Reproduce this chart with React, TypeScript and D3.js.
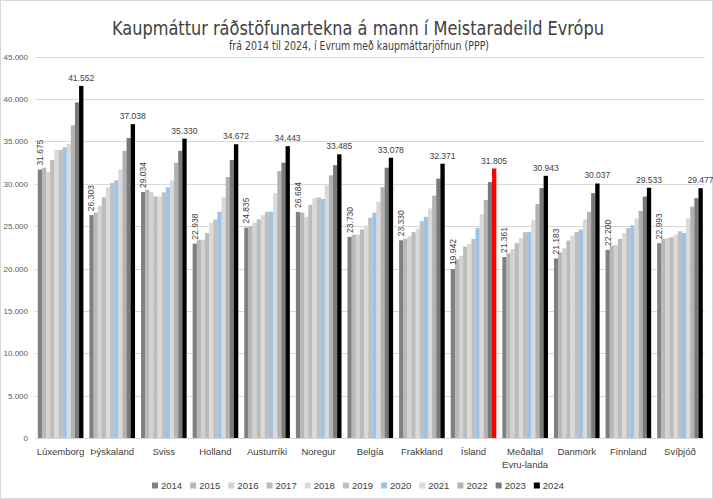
import { useRef, useEffect } from "react";
import * as d3 from "d3";

const countries = [
  "Lúxemborg", "Þýskaland", "Sviss", "Holland", "Austurríki", "Noregur",
  "Belgía", "Frakkland", "Ísland", "Meðaltal\nEvru-landa", "Danmörk", "Finnland", "Svíþjóð",
];
const years = ["2014", "2015", "2016", "2017", "2018", "2019", "2020", "2021", "2022", "2023", "2024"];

// one row per country, one value per year (2014..2024)
const luxemborg = [31675, 31900, 31400, 32800, 34000, 34000, 34300, 34700, 36900, 39600, 41552];
const thyskaland = [26303, 26600, 27400, 28400, 29600, 30100, 30400, 31700, 33900, 35400, 37038];
const sviss = [29034, 29300, 29000, 28500, 28500, 29000, 29600, 30400, 32500, 33900, 35330];
const holland = [22938, 23350, 23400, 24200, 25400, 25800, 26700, 28400, 30800, 32800, 34672];
const austurriki = [24835, 25000, 25400, 25800, 26300, 26700, 26700, 28900, 31500, 32500, 34443];
const noregur = [26684, 26600, 26100, 27500, 28300, 28400, 28200, 29800, 31000, 32200, 33485];
const belgia = [23730, 24000, 24000, 24600, 25100, 26000, 26600, 27900, 29600, 31900, 33078];
const frakkland = [23330, 23500, 23800, 24300, 24700, 25600, 26100, 27100, 28600, 30600, 32371];
const island = [19942, 21100, 21500, 22600, 22900, 23500, 24800, 26400, 28100, 30200, 31805];
const medaltal = [21361, 21800, 22300, 23000, 23600, 24300, 24300, 25700, 27600, 29500, 30943];
const danmork = [21183, 21900, 22400, 23300, 23900, 24300, 24600, 25800, 26700, 28900, 30037];
const finnland = [22200, 22700, 22800, 23500, 24200, 24800, 25100, 25900, 26800, 28500, 29533];
const svithjod = [22993, 23500, 23600, 23700, 24000, 24400, 24200, 25900, 27300, 28300, 29477];

const values = [
  luxemborg, thyskaland, sviss, holland, austurriki, noregur,
  belgia, frakkland, island, medaltal, danmork, finnland, svithjod,
];

const yTicks = [0, 5000, 10000, 15000, 20000, 25000, 30000, 35000, 40000, 45000];

const yearColors = [
  "#808080", "#b8b8b8", "#d2d2d2", "#bcbcbc", "#dadada", "#c0c0c0",
  "#9dc3e6", "#d9d9d9", "#b2b2b2", "#7a7a7a", "#000000",
];

const W = 713;
const H = 499;
const fontMain = "'Liberation Sans', 'Noto Sans', sans-serif";
const fontTitle = "'DejaVu Sans Condensed', 'Liberation Sans Narrow', sans-serif";

const App = () => {
  const svgRef = useRef<SVGSVGElement>(null);

  useEffect(() => {
    if (!svgRef.current) return;
    const svg = d3.select(svgRef.current);
    svg.selectAll("*").remove();

    const fmt = d3.formatLocale({
      decimal: ",",
      thousands: ".",
      grouping: [3],
      currency: ["", ""],
    }).format(",d");

    const x = d3.scaleBand<string>().domain(countries).range([34.7, 705.7])
      .paddingInner(0.12).paddingOuter(0.06);
    const xi = d3.scaleBand<string>().domain(years).range([0, x.bandwidth()]).padding(0);
    const y = d3.scaleLinear().domain([0, 45000]).range([438, 56.7]);

    svg.append("rect").attr("x", 0.5).attr("y", 0.5).attr("width", W - 1).attr("height", H - 1)
      .attr("fill", "#fff").attr("stroke", "#d9d9d9");

    // title
    svg.append("text").attr("x", 358).attr("y", 35).attr("text-anchor", "middle")
      .attr("font-family", fontTitle).attr("font-size", 20).attr("fill", "#404040")
      .attr("textLength", 492).attr("lengthAdjust", "spacingAndGlyphs")
      .text("Kaupmáttur ráðstöfunartekna á mann í Meistaradeild Evrópu");
    svg.append("text").attr("x", 359).attr("y", 50).attr("text-anchor", "middle")
      .attr("font-family", fontTitle).attr("font-size", 11.5).attr("fill", "#404040")
      .attr("textLength", 260).attr("lengthAdjust", "spacingAndGlyphs")
      .text("frá 2014 til 2024, í Evrum með kaupmáttarjöfnun (PPP)");

    // grid + y labels
    const grid = svg.append("g");
    grid.selectAll("line").data(yTicks).enter().append("line")
      .attr("x1", 35).attr("x2", 705)
      .attr("y1", (d) => Math.round(y(d)) + 0.5).attr("y2", (d) => Math.round(y(d)) + 0.5)
      .attr("stroke", "#d9d9d9").attr("stroke-width", 1);
    grid.selectAll("text").data(yTicks).enter().append("text")
      .attr("x", 28).attr("y", (d) => y(d) + 3).attr("text-anchor", "end")
      .attr("font-family", fontMain).attr("font-size", 8).attr("fill", "#595959")
      .text((d) => fmt(d));

    // bars
    const groups = svg.append("g").selectAll("g").data(countries).enter().append("g")
      .attr("transform", (c) => `translate(${x(c)},0)`);
    groups.each(function (c, ci) {
      const g = d3.select(this);
      const row = values[ci];
      g.selectAll("rect").data(row).enter().append("rect")
        .attr("x", (_, i) => xi(years[i])!)
        .attr("width", xi.bandwidth() + 0.2)
        .attr("y", (v) => y(v))
        .attr("height", (v) => y(0) - y(v))
        .attr("fill", (_, i) => (c === "Ísland" && i === 10 ? "#ff0000" : yearColors[i]));

      const first = row[0];
      const fx = xi(years[0])! + xi.bandwidth() / 2 + 3;
      g.append("text")
        .attr("transform", `translate(${fx},${y(first) - 4}) rotate(-90)`)
        .attr("font-family", fontMain).attr("font-size", 8.5).attr("fill", "#404040")
        .text(fmt(first));
      const last = row[10];
      g.append("text")
        .attr("x", xi(years[10])! + xi.bandwidth() / 2).attr("y", y(last) - 5)
        .attr("text-anchor", "middle")
        .attr("font-family", fontMain).attr("font-size", 8.5).attr("fill", "#404040")
        .text(fmt(last));
    });

    // x labels
    const xl = svg.append("g").selectAll("text").data(countries).enter().append("text")
      .attr("x", (c) => x(c)! + x.bandwidth() / 2).attr("y", 455)
      .attr("text-anchor", "middle")
      .attr("font-family", fontMain).attr("font-size", 9.5).attr("fill", "#404040");
    xl.each(function (c) {
      const t = d3.select(this);
      c.split("\n").forEach((part, i) => {
        t.append("tspan").attr("x", x(c)! + x.bandwidth() / 2).attr("dy", i === 0 ? 0 : 13).text(part);
      });
    });

    // legend
    const legend = d3.scaleBand<string>().domain(years).range([152, 572]);
    const li = svg.append("g").selectAll("g").data(years).enter().append("g")
      .attr("transform", (d) => `translate(${legend(d)},486)`);
    li.append("rect").attr("x", 0).attr("y", -3.5).attr("width", 6).attr("height", 6)
      .attr("fill", (_, i) => yearColors[i]);
    li.append("text").attr("x", 9).attr("y", 3)
      .attr("font-family", fontMain).attr("font-size", 9.5).attr("fill", "#404040")
      .text((d) => d);
  }, []);

  return (
    <svg
      ref={svgRef}
      width={W}
      height={H}
      style={{ position: "absolute", left: 0, top: 0, display: "block" }}
    />
  );
};

export default App;
